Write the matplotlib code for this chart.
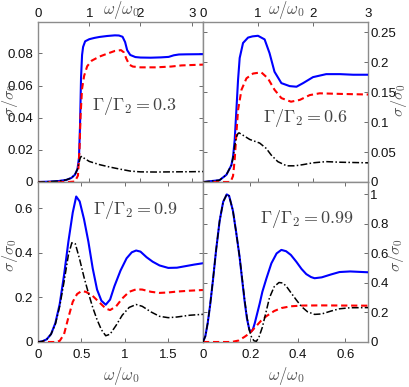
import numpy as np
import matplotlib
matplotlib.use('Agg')
import matplotlib.pyplot as plt
from matplotlib.ticker import MultipleLocator, FuncFormatter

plt.rcParams['mathtext.fontset'] = 'cm'
TICK_FONT = 'Liberation Sans'

# ---------------- data ----------------
# panel A : Gamma/Gamma2 = 0.3
a_blue_x = [0, 0.2, 0.4, 0.55, 0.65, 0.72, 0.77, 0.80, 0.82, 0.84, 0.86, 0.88, 0.92, 1.0, 1.1, 1.2,
            1.35, 1.5, 1.58, 1.65, 1.7, 1.74, 1.8, 1.9, 2.0, 2.2, 2.4, 2.55, 2.65, 2.75, 2.9, 3.22]
a_blue_y = [0, 0.0002, 0.0006, 0.0013, 0.0025, 0.0045, 0.008, 0.015, 0.035, 0.065, 0.079, 0.084,
            0.0875, 0.0888, 0.0896, 0.0902, 0.0908, 0.0912, 0.0911, 0.0903, 0.087, 0.082, 0.079,
            0.0777, 0.0774, 0.0773, 0.0775, 0.0778, 0.0788, 0.0793, 0.0794, 0.0795]
a_red_x = [0, 0.6, 0.72, 0.78, 0.81, 0.83, 0.86, 0.9, 0.96, 1.05, 1.2, 1.35, 1.5, 1.62, 1.68,
           1.72, 1.78, 1.85, 2.0, 2.3, 2.6, 2.8, 3.22]
a_red_y = [0, 0, 0.0003, 0.004, 0.02, 0.041, 0.058, 0.066, 0.072, 0.0755, 0.078, 0.0798, 0.0815,
           0.082, 0.0805, 0.077, 0.073, 0.0718, 0.0713, 0.0713, 0.0718, 0.0725, 0.073]
a_blk_x = [0, 0.2, 0.4, 0.55, 0.65, 0.72, 0.77, 0.80, 0.83, 0.86, 0.9, 1.0, 1.2, 1.4, 1.6, 1.8,
           2.0, 2.3, 2.6, 3.0, 3.22]
a_blk_y = [0, 0.0002, 0.0006, 0.0013, 0.0025, 0.0045, 0.008, 0.012, 0.0155, 0.016, 0.0148,
           0.0128, 0.0108, 0.0093, 0.008, 0.0068, 0.0063, 0.0062, 0.0063, 0.0064, 0.0065]

# panel B : Gamma/Gamma2 = 0.6
b_blue_x = [0, 0.3, 0.425, 0.516, 0.546, 0.576, 0.607, 0.637, 0.667, 0.728, 0.819, 0.9, 1.0,
            1.12, 1.21, 1.30, 1.425, 1.576, 1.70, 1.82, 2.0, 2.24, 2.49, 2.73, 3.0]
b_blue_y = [0, 0.003, 0.012, 0.028, 0.042, 0.07, 0.12, 0.17, 0.207, 0.232, 0.241, 0.243, 0.244,
            0.238, 0.215, 0.184, 0.165, 0.16, 0.159, 0.165, 0.175, 0.18, 0.18, 0.179, 0.179]
b_red_x = [0, 0.5, 0.546, 0.576, 0.607, 0.637, 0.70, 0.79, 0.91, 1.06, 1.18, 1.30, 1.425, 1.6,
           1.76, 1.94, 2.12, 2.5, 3.0]
b_red_y = [0, 0, 0.01, 0.037, 0.081, 0.12, 0.154, 0.173, 0.181, 0.183, 0.173, 0.154, 0.14, 0.134,
           0.137, 0.145, 0.148, 0.147, 0.146]
b_blk_x = [0, 0.3, 0.425, 0.516, 0.546, 0.576, 0.607, 0.637, 0.655, 0.728, 0.85, 1.03, 1.15,
           1.24, 1.36, 1.52, 1.67, 1.82, 2.0, 2.24, 2.49, 3.0]
b_blk_y = [0, 0.003, 0.012, 0.028, 0.04, 0.06, 0.075, 0.081, 0.082, 0.078, 0.071, 0.065, 0.056,
           0.045, 0.034, 0.027, 0.027, 0.029, 0.032, 0.034, 0.033, 0.032]

# panel C : Gamma/Gamma2 = 0.9
c_blue_x = [0, 0.05, 0.1, 0.15, 0.2, 0.25, 0.3, 0.35, 0.4, 0.44, 0.48, 0.53, 0.58, 0.63, 0.68,
            0.73, 0.78, 0.83, 0.88, 0.95, 1.02, 1.08, 1.13, 1.18, 1.25, 1.32, 1.4, 1.5, 1.6, 1.7,
            1.8, 1.9]
c_blue_y = [0, 0.003, 0.012, 0.035, 0.085, 0.17, 0.3, 0.45, 0.58, 0.652, 0.63, 0.55, 0.45, 0.33,
            0.235, 0.185, 0.167, 0.19, 0.25, 0.32, 0.375, 0.402, 0.41, 0.405, 0.38, 0.36, 0.343,
            0.332, 0.333, 0.34, 0.347, 0.353]
c_red_x = [0, 0.2, 0.25, 0.3, 0.35, 0.4, 0.45, 0.5, 0.55, 0.62, 0.7, 0.78, 0.83, 0.9, 0.97, 1.05,
           1.13, 1.2, 1.3, 1.4, 1.5, 1.6, 1.75, 1.9]
c_red_y = [0, 0, 0.005, 0.035, 0.11, 0.18, 0.215, 0.228, 0.225, 0.21, 0.18, 0.15, 0.143, 0.16,
           0.195, 0.225, 0.236, 0.235, 0.225, 0.22, 0.222, 0.226, 0.23, 0.233]
c_blk_x = [0, 0.05, 0.1, 0.15, 0.2, 0.25, 0.3, 0.35, 0.39, 0.43, 0.48, 0.53, 0.58, 0.63, 0.68,
           0.73, 0.78, 0.83, 0.9, 0.97, 1.05, 1.13, 1.2, 1.3, 1.4, 1.5, 1.6, 1.75, 1.9]
c_blk_y = [0, 0.003, 0.012, 0.035, 0.08, 0.16, 0.27, 0.39, 0.445, 0.44, 0.37, 0.29, 0.22, 0.155,
           0.1, 0.055, 0.028, 0.035, 0.075, 0.12, 0.155, 0.168, 0.16, 0.135, 0.115, 0.109, 0.112,
           0.12, 0.124]

# panel D : Gamma/Gamma2 = 0.99
d_blue_x = [0, 0.01, 0.02, 0.03, 0.042, 0.055, 0.07, 0.085, 0.1, 0.11, 0.126, 0.14, 0.154, 0.165,
            0.175, 0.185, 0.195, 0.203, 0.21, 0.218, 0.239, 0.25, 0.267, 0.288, 0.31, 0.33, 0.35,
            0.37, 0.393, 0.415, 0.435, 0.455, 0.47, 0.5, 0.54, 0.575, 0.62, 0.66, 0.7]
d_blue_y = [0, 0.04, 0.13, 0.25, 0.42, 0.62, 0.82, 0.95, 1.0, 0.99, 0.89, 0.74, 0.578, 0.42, 0.28,
            0.16, 0.085, 0.07, 0.085, 0.127, 0.262, 0.34, 0.43, 0.533, 0.6, 0.624, 0.615, 0.59,
            0.544, 0.495, 0.46, 0.44, 0.432, 0.438, 0.458, 0.474, 0.478, 0.475, 0.472]
d_red_x = [0, 0.12, 0.15, 0.175, 0.197, 0.22, 0.245, 0.267, 0.3, 0.33, 0.37, 0.42, 0.5, 0.6, 0.7]
d_red_y = [0, 0, 0.01, 0.035, 0.06, 0.1, 0.145, 0.175, 0.21, 0.23, 0.242, 0.247, 0.248, 0.247,
           0.246]
d_blk_x = [0, 0.01, 0.02, 0.03, 0.042, 0.055, 0.07, 0.085, 0.1, 0.11, 0.126, 0.14, 0.154, 0.165,
           0.175, 0.185, 0.195, 0.205, 0.215, 0.225, 0.235, 0.25, 0.265, 0.28, 0.3, 0.32, 0.335,
           0.35, 0.37, 0.393, 0.415, 0.44, 0.47, 0.5, 0.54, 0.575, 0.62, 0.7]
d_blk_y = [0, 0.04, 0.13, 0.25, 0.42, 0.62, 0.82, 0.95, 1.0, 0.99, 0.89, 0.74, 0.578, 0.43, 0.29,
           0.17, 0.08, 0.03, 0.008, 0.005, 0.03, 0.1, 0.2, 0.3, 0.375, 0.403, 0.4, 0.38, 0.335,
           0.285, 0.24, 0.205, 0.187, 0.19, 0.21, 0.225, 0.232, 0.233]

ratios = ['0.3', '0.6', '0.9', '0.99']

# ---------------- figure ----------------
W, H = 409, 387
fig = plt.figure(figsize=(W / 100, H / 100), dpi=100)


def box(x0, y0, x1, y1):
    return [x0 / W, 1 - y1 / H, (x1 - x0) / W, (y1 - y0) / H]


gfmt = FuncFormatter(lambda v, p: '%g' % round(v, 4))


def style(ax, xlim, ylim, xmaj, ymaj, xtop, yright):
    ax.set_xlim(*xlim)
    ax.set_ylim(*ylim)
    for s in ax.spines.values():
        s.set_color('#8c8c8c')
        s.set_linewidth(1.0)
    ax.xaxis.set_major_locator(MultipleLocator(xmaj))
    ax.yaxis.set_major_locator(MultipleLocator(ymaj))
    ax.xaxis.set_major_formatter(gfmt)
    ax.yaxis.set_major_formatter(gfmt)
    ax.tick_params(direction='in', top=True, right=True, color='#555555',
                   length=3, width=0.6, labelsize=9.5, labelcolor='#111111')
    ax.tick_params(axis='x', labeltop=xtop, labelbottom=not xtop, pad=5 if not xtop else 1.5)
    ax.tick_params(axis='y', labelright=yright, labelleft=not yright, pad=1.5 if yright else 3.5)
    for lab in ax.get_xticklabels() + ax.get_yticklabels():
        lab.set_family(TICK_FONT)


def curves(ax, bx, by, rx, ry, kx, ky):
    ax.plot(bx, by, color='#0000ff', lw=1.5, zorder=3)
    ax.plot(rx, ry, color='#ff0000', lw=1.5, ls=(0, (3.0, 1.8)), zorder=4)
    ax.plot(kx, ky, color='black', lw=1.1, ls=(0, (4.5, 1.5, 1, 1.5)), zorder=5)


axA = fig.add_axes(box(38, 22, 203, 182))
axB = fig.add_axes(box(203, 22, 368, 182))
axC = fig.add_axes(box(38, 182, 203, 342))
axD = fig.add_axes(box(203, 182, 368, 342))

curves(axA, a_blue_x, a_blue_y, a_red_x, a_red_y, a_blk_x, a_blk_y)
curves(axB, b_blue_x, b_blue_y, b_red_x, b_red_y, b_blk_x, b_blk_y)
curves(axC, c_blue_x, c_blue_y, c_red_x, c_red_y, c_blk_x, c_blk_y)
curves(axD, d_blue_x, d_blue_y, d_red_x, d_red_y, d_blk_x, d_blk_y)

style(axA, (0, 3.22), (0, 0.0995), 1, 0.02, True, False)
style(axB, (0, 3.0), (0, 0.267), 1, 0.05, True, True)
style(axC, (0, 1.9), (0, 0.717), 0.5, 0.2, False, False)
style(axD, (0, 0.695), (0, 1.084), 0.2, 0.2, False, True)

# annotations
ann_pos = [(134, 106), (305, 118), (135, 210), (307, 219)]
for r, (px, py) in zip(ratios, ann_pos):
    fig.text(px / W, 1 - py / H, r'$\Gamma/\Gamma_2=%s$' % r, ha='center', va='center',
             fontsize=13, color='#444444')

# axis labels
lab_col = '#555555'
for px, py in [(121, 10), (286, 10), (121, 376), (286, 376)]:
    fig.text(px / W, 1 - py / H, r'$\omega/\omega_0$', ha='center', va='center',
             fontsize=12, color=lab_col)
for px, py in [(10, 100), (10, 255), (399, 100), (396, 255)]:
    fig.text(px / W, 1 - py / H, r'$\sigma/\sigma_0$', ha='center', va='center',
             fontsize=11.5, color=lab_col, rotation=90)

fig.savefig('out.png', dpi=100)
